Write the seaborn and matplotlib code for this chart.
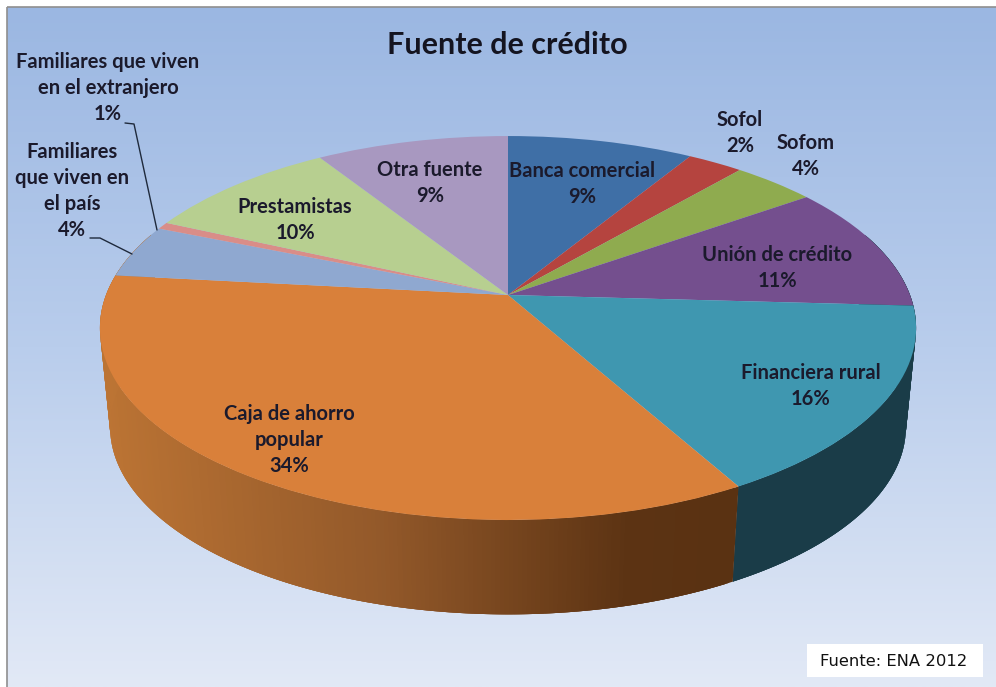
import numpy as np
import matplotlib
matplotlib.use("Agg")
import matplotlib.pyplot as plt
from matplotlib.transforms import Transform
from matplotlib.colors import LinearSegmentedColormap
import seaborn as sns

# ---- data ----
categories = ["Banca comercial", "Sofol", "Sofom", "Unión de crédito", "Financiera rural",
              "Caja de ahorro popular", "Familiares que viven en el país",
              "Familiares que viven en el extranjero", "Prestamistas", "Otra fuente"]
slice_sizes = [8.7, 2.6, 3.9, 10.7, 16.0, 34.8, 4.5, 0.6, 9.2, 9.0]
printed_pct = [9, 2, 4, 11, 16, 34, 4, 1, 10, 9]
slice_colors = ["#3f6fa6", "#b5443f", "#8fab4f", "#744f8e", "#3f97b0",
                "#d9803a", "#8fa8d0", "#d98d88", "#b7cf90", "#a898c0"]
title_text = "Fuente de crédito"
source_text = "Fuente: ENA 2012"

W, H = 996, 687
CX, CY = 508.0, 295.0
A, B, C = 186.3, 402.0, 0.172
DEPTH_SCALE, DEPTH_CY = 0.975, 395.0


class Perspective(Transform):
    """Tilted-disc view: unit pie coordinates to picture pixels."""
    input_dims = output_dims = 2
    is_separable = False
    has_inverse = False

    def transform_non_affine(self, values):
        v = np.asarray(values, dtype=float)
        w = 1 + C * v[:, 1]
        return np.column_stack([CX + B * v[:, 0] / w, CY - A * v[:, 1] / w])


sns.set_theme(style="white")
plt.rcParams["font.family"] = ["Lato", "DejaVu Sans"]
palette = sns.color_palette(slice_colors)

fig = plt.figure(figsize=(W / 100, H / 100), dpi=100, facecolor="white")
ax = fig.add_axes([0, 0, 1, 1])

# pie through the library, then viewed in perspective
wedges, _ = ax.pie(slice_sizes, colors=palette, startangle=90, counterclock=False,
                   wedgeprops=dict(linewidth=0))
persp = Perspective()
ax.set_aspect("auto")
ax.set_xlim(0, W)
ax.set_ylim(H, 0)
ax.axis("off")
for w in wedges:
    w.set_transform(persp + ax.transData)
    w.set_zorder(5)

# background
grad = np.linspace(0, 1, 256).reshape(-1, 1)
bg_cmap = LinearSegmentedColormap.from_list("bg", ["#9bb7e2", "#b9cdec", "#e2e9f6"])
ax.imshow(grad, extent=(7, W, H, 7), cmap=bg_cmap, aspect="auto", zorder=0)
ax.plot([7, 7], [H, 7], color="#8f8f8f", lw=1.2, zorder=1, solid_capstyle="butt")
ax.plot([7, W], [7, 7], color="#8f8f8f", lw=1.2, zorder=1, solid_capstyle="butt")
ax.set_xlim(0, W)
ax.set_ylim(H, 0)

# side wall, built from the same slice sizes
edges = np.cumsum([0] + slice_sizes) / sum(slice_sizes) * 2 * np.pi
side_cmap = LinearSegmentedColormap.from_list(
    "caja", [(0, "#5a3212"), (0.15, "#5c3313"), (0.55, "#93592a"), (1, "#bc7434")])
teal_side = "#1a3c48"


def rim(theta):
    u, v = np.sin(theta), np.cos(theta)
    top = persp.transform_non_affine(np.column_stack([u, v]))
    low = np.column_stack([CX + DEPTH_SCALE * (top[:, 0] - CX),
                           DEPTH_CY + DEPTH_SCALE * (top[:, 1] - CY)])
    return top, low


def wall(theta, colour_of, base_z):
    top, low = rim(theta)
    last = len(theta) - 1
    for i in range(last):
        j = min(i + 3, last)  # each strip overlaps the next so no seams show
        ax.fill([top[i, 0], top[j, 0], low[j, 0], low[i, 0]],
                [top[i, 1], top[j, 1], low[j, 1], low[i, 1]],
                color=colour_of(top[i, 0]), lw=0, zorder=base_z + 0.001 * i)


boundary = edges[5]
wall(np.linspace(np.radians(70), boundary, 200), lambda x: teal_side, 3)
wall(np.linspace(boundary, np.radians(290), 260),
     lambda x: side_cmap(np.clip((727 - x) / (727 - 99), 0, 1)), 4)

# labels
label_style = dict(ha="center", va="center", fontsize=14.5, fontweight="bold",
                   color="#1b1a2c", zorder=8, linespacing=1.36, multialignment="center")
label_pos = {
    "Banca comercial": ("Banca comercial", 582, 184),
    "Sofol": ("Sofol", 740, 133),
    "Sofom": ("Sofom", 806, 156),
    "Unión de crédito": ("Unión de crédito", 777, 268),
    "Financiera rural": ("Financiera rural", 811, 386),
    "Caja de ahorro popular": ("Caja de ahorro\npopular", 289, 440),
    "Familiares que viven en el país": ("Familiares\nque viven en\nel país", 72, 191),
    "Familiares que viven en el extranjero": ("Familiares que viven\nen el extranjero", 108, 88),
    "Prestamistas": ("Prestamistas", 295, 220),
    "Otra fuente": ("Otra fuente", 430, 183),
}
for name, pct in zip(categories, printed_pct):
    txt, x, y = label_pos[name]
    ax.text(x, y, f"{txt}\n{pct}%", **label_style)

ax.plot([125, 134, 157], [123, 124, 230], color="#1f2a3c", lw=1.0, zorder=7)
ax.plot([90, 100, 132], [238, 238, 254], color="#1f2a3c", lw=1.0, zorder=7)

ax.text(507, 45, title_text, ha="center", va="center", fontsize=22, fontweight="bold",
        color="#141420", zorder=8)

# source box
ax.fill([807, 983, 983, 807], [644, 644, 677, 677], color="white", lw=0, zorder=8)
ax.text(894, 661, source_text, ha="center", va="center", fontsize=11.8,
        family="DejaVu Sans", color="#111111", zorder=9)

fig.savefig("out.png", dpi=100, facecolor="white")
